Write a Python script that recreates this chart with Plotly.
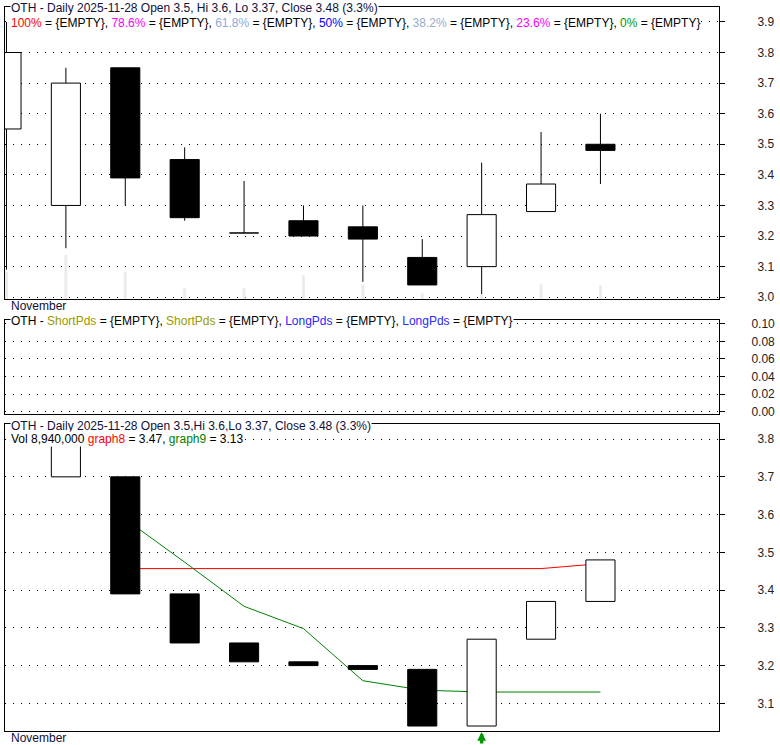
import plotly.graph_objects as go

# ---------------- data ----------------
dates = ["2025-11-13", "2025-11-14", "2025-11-17", "2025-11-18", "2025-11-19", "2025-11-20",
         "2025-11-21", "2025-11-24", "2025-11-25", "2025-11-26", "2025-11-28"]
opens = [3.55, 3.30, 3.75, 3.45, 3.21, 3.25, 3.23, 3.13, 3.10, 3.28, 3.50]
highs = [3.90, 3.75, 3.75, 3.49, 3.38, 3.30, 3.30, 3.19, 3.44, 3.54, 3.60]
lows = [3.09, 3.16, 3.30, 3.25, 3.21, 3.20, 3.05, 3.04, 3.01, 3.28, 3.37]
closes = [3.80, 3.70, 3.39, 3.26, 3.21, 3.20, 3.19, 3.04, 3.27, 3.37, 3.48]
volumes = [17.3e6, 28.1e6, 17.3e6, 7.0e6, 7.0e6, 15.3e6, 9.6e6, 3.8e6, 3.2e6, 9.6e6, 8.94e6]
graph8 = [None, None, 3.457, 3.457, 3.457, 3.457, 3.457, 3.457, 3.457, 3.457, 3.47]
graph9 = [None, None, 3.588, 3.474, 3.357, 3.298, 3.16, 3.135, 3.13, 3.13, 3.13]
short_pds = []
long_pds = []
signal_up = [8]

top_ticks = [3.0, 3.1, 3.2, 3.3, 3.4, 3.5, 3.6, 3.7, 3.8, 3.9]
mid_ticks = [0.0, 0.02, 0.04, 0.06, 0.08, 0.10]
bot_ticks = [3.1, 3.2, 3.3, 3.4, 3.5, 3.6, 3.7, 3.8]

FONT = "Liberation Sans, Arial, sans-serif"
HW = 0.245  # half body width in slot units

xs = list(range(len(dates)))


def rect_path(items):
    px_, py_ = [], []
    for i, lo, hi in items:
        px_ += [i - HW, i + HW, i + HW, i - HW, i - HW, None]
        py_ += [lo, lo, hi, hi, lo, None]
    return px_, py_


fig = go.Figure()

# volume ghost bars in price panel
fig.add_trace(go.Bar(x=xs, y=volumes, width=0.05, marker=dict(color="#ebebeb", line=dict(width=0)),
                     xaxis="x", yaxis="y4", hoverinfo="skip", showlegend=False))

# wicks (drawn outside bodies)
wx, wy = [], []
for i in xs:
    bt = max(opens[i], closes[i])
    bb = min(opens[i], closes[i])
    if highs[i] > bt:
        wx += [i, i, None]; wy += [bt, highs[i], None]
    if lows[i] < bb:
        wx += [i, i, None]; wy += [lows[i], bb, None]
fig.add_trace(go.Scatter(x=wx, y=wy, mode="lines", line=dict(color="black", width=1),
                         xaxis="x", yaxis="y", hoverinfo="skip", showlegend=False))

up_items = [(i, opens[i], closes[i]) for i in xs if closes[i] > opens[i]]
dn_items = [(i, closes[i], opens[i]) for i in xs if closes[i] <= opens[i]]
ux, uy = rect_path(up_items)
dx, dy = rect_path(dn_items)
fig.add_trace(go.Scatter(x=ux, y=uy, mode="lines", fill="toself", fillcolor="white",
                         line=dict(color="black", width=1), xaxis="x", yaxis="y",
                         hoverinfo="skip", showlegend=False))
fig.add_trace(go.Scatter(x=dx, y=dy, mode="lines", fill="toself", fillcolor="black",
                         line=dict(color="black", width=1), xaxis="x", yaxis="y",
                         hoverinfo="skip", showlegend=False))

# middle panel (empty series)
fig.add_trace(go.Scatter(x=list(range(len(short_pds))), y=short_pds, mode="lines",
                         line=dict(color="#999900"), xaxis="x2", yaxis="y2", showlegend=False))
fig.add_trace(go.Scatter(x=list(range(len(long_pds))), y=long_pds, mode="lines",
                         line=dict(color="#2828ff"), xaxis="x2", yaxis="y2", showlegend=False))

# bottom panel lines
fig.add_trace(go.Scatter(x=xs, y=graph8, mode="lines", line=dict(color="#ff0000", width=1),
                         xaxis="x3", yaxis="y3", hoverinfo="skip", showlegend=False))
fig.add_trace(go.Scatter(x=xs, y=graph9, mode="lines", line=dict(color="#008000", width=1),
                         xaxis="x3", yaxis="y3", hoverinfo="skip", showlegend=False))

# bottom panel close-to-close boxes
hol, fil = [], []
for i in xs[1:]:
    lo = min(closes[i - 1], closes[i])
    hi = max(closes[i - 1], closes[i])
    if closes[i] > opens[i] or closes[i] > closes[i - 1]:
        hol.append((i, lo, hi))
    else:
        fil.append((i, lo, hi))
hx, hy = rect_path(hol)
fx, fy = rect_path(fil)
fig.add_trace(go.Scatter(x=hx, y=hy, mode="lines", fill="toself", fillcolor="white",
                         line=dict(color="black", width=1), xaxis="x3", yaxis="y3",
                         hoverinfo="skip", showlegend=False))
fig.add_trace(go.Scatter(x=fx, y=fy, mode="lines", fill="toself", fillcolor="black",
                         line=dict(color="black", width=1), xaxis="x3", yaxis="y3",
                         hoverinfo="skip", showlegend=False))

# ---------------- layout ----------------
H_TOP, H_BOT = 5, 731
PH = H_BOT - H_TOP


def py(p):
    return (H_BOT - p) / PH


XR = [-0.025, 11.996]
xcommon = dict(range=XR, showline=True, mirror=True, linecolor="black", linewidth=1,
               showgrid=False, zeroline=False, showticklabels=False, ticks="", fixedrange=True)
ycommon = dict(side="right", showline=True, mirror=True, linecolor="black", linewidth=1,
               ticks="outside", ticklen=5, tickcolor="black", showgrid=True, gridcolor="black",
               gridwidth=1, griddash="1px,7px", zeroline=False, fixedrange=True,
               tickfont=dict(family=FONT, size=12, color="#222222"))

layout = dict(
    width=780, height=745,
    margin=dict(l=4, r=61, t=H_TOP, b=745 - H_BOT, pad=0),
    paper_bgcolor="white", plot_bgcolor="white",
    showlegend=False,
    font=dict(family=FONT, size=12, color="black"),
    xaxis=dict(anchor="y", **xcommon),
    xaxis2=dict(anchor="y2", matches="x", **xcommon),
    xaxis3=dict(anchor="y3", matches="x", **xcommon),
    yaxis=dict(domain=[py(298), 1.0], range=[2.99348, 3.9488], tickvals=top_ticks,
               tickformat=".1f", anchor="x", ticklabelstandoff=30, **ycommon),
    yaxis2=dict(domain=[py(412.7), py(319.3)], range=[-0.00227, 0.10386], tickvals=mid_ticks,
                tickformat=".2f", anchor="x2", ticklabelstandoff=24, **ycommon),
    yaxis3=dict(domain=[0.0, py(423.3)], range=[3.0268, 3.8396], tickvals=bot_ticks,
                tickformat=".1f", anchor="x3", ticklabelstandoff=30, **ycommon),
    yaxis4=dict(overlaying="y", anchor="x", range=[0, 187e6], visible=False, fixedrange=True),
)
fig.update_layout(**layout)


def span(txt, col):
    return f'<span style="color:{col}">{txt}</span>'


def px(p):
    return (p - 4) / 715


last = len(dates) - 1
chg = (closes[last] / closes[last - 1] - 1) * 100
title_top = (f"OTH - Daily {dates[last]} Open {opens[last]:g}, Hi {highs[last]:g}, "
             f"Lo {lows[last]:g}, Close {closes[last]:g} ({chg:.1f}%)")
title_bot = (f"OTH - Daily {dates[last]} Open {opens[last]:g},Hi {highs[last]:g},"
             f"Lo {lows[last]:g}, Close {closes[last]:g} ({chg:.1f}%)")
fib = [("100%", "#ff0000"), ("78.6%", "#ff00ff"), ("61.8%", "#8fa8dc"), ("50%", "#0000ff"),
       ("38.2%", "#9aaacc"), ("23.6%", "#ff00ff"), ("0%", "#009900")]
fib_txt = ", ".join(span(n, c) + " = {EMPTY}" for n, c in fib)
mid_txt = ("OTH - " + span("ShortPds", "#999900") + " = {EMPTY}, " + span("ShortPds", "#999900")
           + " = {EMPTY}, " + span("LongPds", "#2828ff") + " = {EMPTY}, "
           + span("LongPds", "#2828ff") + " = {EMPTY}")
vol_txt = ("Vol " + f"{int(volumes[last]):,}" + " " + span("graph8", "#ff0000")
           + f" = {graph8[last]:.2f}, " + span("graph9", "#008000") + f" = {graph9[last]:.2f}")

ann = []


def label(text, xpix, ypix, bg="white", color="black"):
    ann.append(dict(text=text, x=px(xpix), y=py(ypix), xref="paper", yref="paper",
                    xanchor="left", yanchor="middle", showarrow=False, bgcolor=bg,
                    borderpad=0, font=dict(family=FONT, size=12, color=color)))


label(title_top, 9, 6, color="#10103a")
label(fib_txt, 9, 21)
label("November", 9, 305, bg="rgba(0,0,0,0)", color="#10103a")
label(mid_txt, 9, 320)
label(title_bot, 9, 425, color="#10103a")
label(vol_txt, 9, 438)
label("November", 9, 738, bg="rgba(0,0,0,0)", color="#10103a")

for s in signal_up:
    ann.append(dict(text="", x=s, y=py(732), xref="x3", yref="paper", showarrow=True,
                    ax=0, ay=14, arrowhead=2, arrowsize=0.5, arrowwidth=3.5, arrowcolor="#009900"))

fig.update_layout(annotations=ann)

fig.write_html("out.html", config={"displayModeBar": False},
               post_script="document.body.style.margin='0px';document.body.style.overflow='hidden';")
